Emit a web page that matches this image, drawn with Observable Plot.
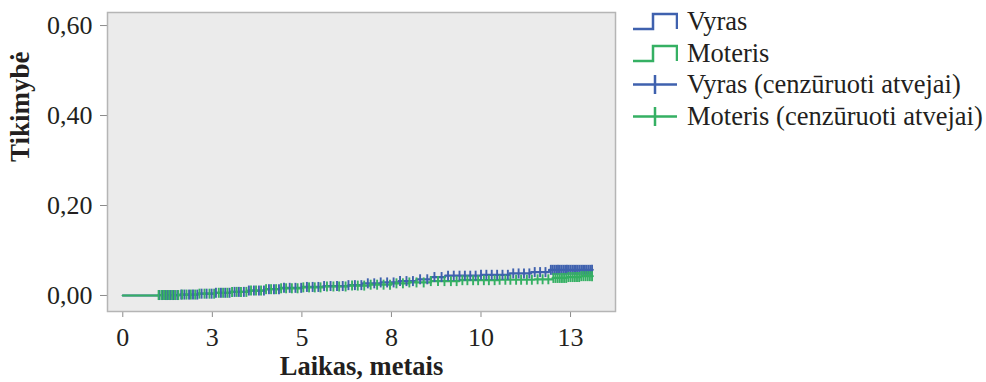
<!DOCTYPE html>
<html><head><meta charset="utf-8">
<script src="https://cdn.jsdelivr.net/npm/d3@7"></script>
<script src="https://cdn.jsdelivr.net/npm/@observablehq/plot@0.6"></script>
<style>
body{margin:0;background:#fff;font-family:"Liberation Serif",serif;}
#wrap{position:relative;width:986px;height:382px;}
#chart{position:absolute;left:0;top:0;}
#legend{position:absolute;left:632px;top:6px;font-size:26.5px;color:#231f20;font-family:"Liberation Serif",serif;}
.row{display:flex;align-items:center;height:31.5px;white-space:nowrap;}
.row svg{margin-right:9px;flex:none;}
</style></head><body>
<div id="wrap"><div id="chart"></div><div id="legend"></div></div>
<script>
const xTicks = [0, 2.5, 5, 7.5, 10, 12.5];
const xTickLabels = ["0", "3", "5", "8", "10", "13"];
const yTicks = [0, 0.2, 0.4, 0.6];
const yTickLabels = ["0,00", "0,20", "0,40", "0,60"];
const xTitle = "Laikas, metais";
const yTitle = "Tikimybė";
const seriesNames = ["Vyras", "Moteris"];
const legendLabels = ["Vyras", "Moteris", "Vyras (cenzūruoti atvejai)", "Moteris (cenzūruoti atvejai)"];
const colors = ["#3f61ae", "#35b063"];

const vyrasTime = [0, 1.0, 1.6, 2.1, 2.6, 3.0, 3.5, 4.0, 4.4, 5.0, 5.6, 6.3, 6.7, 7.2, 7.7, 8.2, 8.6, 9.0, 10.0, 10.8, 11.4, 11.9, 13.12];
const vyrasProb = [0, 0.001, 0.002, 0.004, 0.006, 0.008, 0.011, 0.014, 0.017, 0.019, 0.021, 0.023, 0.027, 0.029, 0.032, 0.036, 0.041, 0.044, 0.046, 0.049, 0.052, 0.057, 0.057];
const moterisTime = [0, 1.0, 1.6, 2.1, 2.6, 3.0, 3.5, 4.0, 4.4, 5.0, 5.6, 6.3, 6.9, 7.5, 8.0, 8.6, 9.4, 10.5, 11.5, 12.0, 12.4, 12.8, 13.12];
const moterisProb = [0, 0.001, 0.002, 0.004, 0.006, 0.008, 0.011, 0.014, 0.016, 0.018, 0.020, 0.022, 0.024, 0.027, 0.029, 0.032, 0.034, 0.035, 0.036, 0.039, 0.041, 0.043, 0.043];

const vyrasCensor = [1.02,1.1,1.18,1.26,1.34,1.42,1.52,1.63,1.72,1.85,1.96,2.08,2.2,2.34,2.48,2.6,2.74,2.86,2.98,3.12,3.24,3.38,3.52,3.66,3.8,3.94,4.08,4.22,4.36,4.5,4.66,4.82,4.98,5.14,5.3,5.46,5.62,5.8,5.98,6.14,6.3,6.48,6.66,6.84,7.02,7.2,7.38,7.56,7.74,7.92,8.1,8.3,8.5,8.7,8.9,9.08,9.24,9.4,9.55,9.7,9.85,10.0,10.15,10.3,10.45,10.6,10.75,10.9,11.05,11.2,11.35,11.5,11.65,11.8,11.95,12.0,12.05,12.1,12.15,12.2,12.25,12.3,12.35,12.4,12.45,12.5,12.55,12.6,12.65,12.7,12.75,12.8,12.85,12.9,12.95,13.0,13.05,13.1];
const moterisCensor = [1.0,1.08,1.15,1.22,1.3,1.38,1.46,1.55,1.66,1.78,1.9,2.02,2.14,2.28,2.42,2.55,2.68,2.8,2.92,3.05,3.18,3.3,3.45,3.58,3.72,3.86,4.0,4.14,4.28,4.42,4.56,4.72,4.88,5.04,5.2,5.36,5.52,5.7,5.88,6.04,6.22,6.4,6.56,6.74,6.92,7.1,7.28,7.46,7.64,7.82,8.0,8.2,8.4,8.6,8.8,8.98,9.16,9.32,9.48,9.62,9.78,9.92,10.08,10.22,10.38,10.52,10.68,10.82,10.98,11.12,11.28,11.42,11.58,11.72,11.88,12.02,12.08,12.14,12.2,12.26,12.32,12.38,12.44,12.5,12.56,12.62,12.68,12.74,12.8,12.86,12.92,12.98,13.04,13.1];

function stepRows(times, probs, s) { return times.map((t, i) => ({t, p: probs[i], s})); }
function censorRows(cens, times, probs, s) {
  return cens.map(t => ({t, p: probs[Math.max(0, d3.bisectRight(times, t) - 1)], s}));
}
const lineV = stepRows(vyrasTime, vyrasProb, seriesNames[0]);
const lineM = stepRows(moterisTime, moterisProb, seriesNames[1]);
const censV = censorRows(vyrasCensor, vyrasTime, vyrasProb, seriesNames[0]);
const censM = censorRows(moterisCensor, moterisTime, moterisProb, seriesNames[1]);

const vbar = {draw(ctx, size) { const h = Math.sqrt(size / Math.PI); ctx.moveTo(0, -h); ctx.lineTo(0, h); }};

const chart = Plot.plot({
  width: 625, height: 382,
  marginLeft: 107, marginRight: 10, marginTop: 12, marginBottom: 71,
  style: {fontFamily: "Liberation Serif, serif", fontSize: "26px", color: "#231f20", background: "transparent"},
  x: {domain: [-0.427, 13.755]},
  y: {domain: [-0.0356, 0.629]},
  marks: [
    Plot.frame({fill: "#ebebeb", stroke: "none"}),
    Plot.axisX(xTicks, {tickSize: 6, tickPadding: 10, tickFormat: d => xTickLabels[xTicks.indexOf(d)], stroke: "#8c8c8c", label: null, fontSize: 26}),
    Plot.axisY(yTicks, {tickSize: 7, tickPadding: 8, tickFormat: d => yTickLabels[yTicks.indexOf(d)], stroke: "#8c8c8c", label: null, fontSize: 26}),
    Plot.line(lineV, {x: "t", y: "p", stroke: colors[0], strokeWidth: 2.2, curve: "step-after"}),
    Plot.line(lineM, {x: "t", y: "p", stroke: colors[1], strokeWidth: 2.2, curve: "step-after"}),
    Plot.dot(censV, {x: "t", y: "p", symbol: vbar, r: 5, stroke: colors[0], fill: "none", strokeWidth: 1.9}),
    Plot.dot(censM, {x: "t", y: "p", symbol: vbar, r: 5, stroke: colors[1], fill: "none", strokeWidth: 1.9}),
    Plot.frame({stroke: "#b5b5b5", strokeWidth: 1.5}),
    Plot.text([xTitle], {text: d => d, frameAnchor: "bottom", dy: 55, fontWeight: "bold", fontSize: 26.5, lineAnchor: "middle"}),
    Plot.text([yTitle], {text: d => d, frameAnchor: "left", rotate: -90, dx: -87, fontWeight: "bold", fontSize: 27, lineAnchor: "middle"})
  ]
});
document.getElementById("chart").appendChild(chart);

const legend = document.getElementById("legend");
legendLabels.forEach((lab, i) => {
  const c = colors[i % 2];
  const row = document.createElement("div");
  row.className = "row";
  const path = i < 2
    ? `<path d="M1,18 H21 V3 H45 V18" fill="none" stroke="${c}" stroke-width="2.5"/>`
    : `<path d="M1,10.5 H45 M23,1 V20" fill="none" stroke="${c}" stroke-width="2.5"/>`;
  row.innerHTML = `<svg width="46" height="21" viewBox="0 0 46 21">${path}</svg><span>${lab}</span>`;
  legend.appendChild(row);
});
</script>
</body></html>
